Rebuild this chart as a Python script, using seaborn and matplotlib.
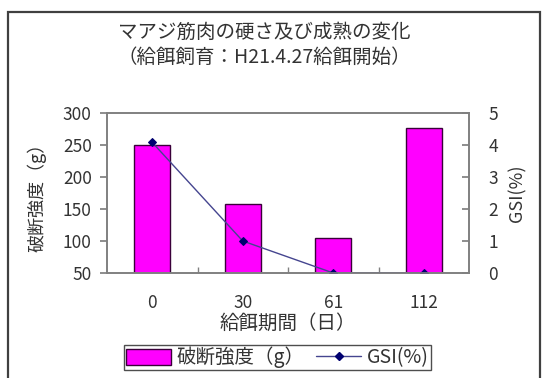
import matplotlib
matplotlib.use("Agg")
import matplotlib.pyplot as plt
import seaborn as sns
from matplotlib.patches import Rectangle, Patch
from matplotlib.lines import Line2D

# Feeding period (days) and measurements
days = ["0", "30", "61", "112"]
breaking_strength = [250, 158, 104, 276]   # g
gsi = [4.08, 1.0, 0.0, 0.0]                # %

title_text = "マアジ筋肉の硬さ及び成熟の変化\n（給餌飼育：H21.4.27給餌開始）"
xlabel_text = "給餌期間（日）"
ylabel_left = "破断強度（g）"
ylabel_right = "GSI(%)"

sns.set_theme(style="white")
plt.rcParams["font.family"] = ["Noto Sans CJK JP", "DejaVu Sans"]

text_color = "#333333"
bar_color = "#FF00FF"
bar_edge = "#3a003a"
line_color = "#45458f"
marker_color = "#000070"

fig = plt.figure(figsize=(5.42, 3.78), dpi=100)
ax = fig.add_axes([107 / 542, 1 - 273 / 378, (469 - 107) / 542, (273 - 113) / 378])

sns.barplot(x=days, y=breaking_strength, ax=ax, color=bar_color, width=0.4,
            edgecolor=bar_edge, linewidth=1.0, saturation=1)
ax.set_ylim(50, 300)
ax.set_yticks(range(50, 301, 50))
ax.set_xlim(-0.5, 3.5)

ax2 = ax.twinx()
sns.pointplot(x=days, y=gsi, ax=ax2, color=line_color, markers="D",
              linestyles="-", markersize=4, linewidth=1.0)
for ln in ax2.lines:
    ln.set_markerfacecolor(marker_color)
    ln.set_markeredgecolor(marker_color)
ax2.set_ylim(0, 5)
ax2.set_yticks(range(0, 6))
ax2.set_xlim(-0.5, 3.5)

# x ticks: labels at category centres, tick marks at category boundaries
ax.set_xticks(range(len(days)))
ax.set_xticklabels(days)
ax.tick_params(axis="x", length=0, pad=15, labelsize=12.5, labelcolor=text_color)
ax.set_xticks([0.5, 1.5, 2.5], minor=True)
ax.tick_params(axis="x", which="minor", direction="in", length=4, color="#808080",
               bottom=True)

ax.tick_params(axis="y", direction="out", length=5, color="#808080", left=True,
               labelsize=12.5, labelcolor=text_color, pad=6)
ax2.tick_params(axis="y", direction="in", length=5, color="#808080", right=True,
                labelsize=12.5, labelcolor=text_color, pad=14)

for a in (ax, ax2):
    for s in a.spines.values():
        s.set_color("#808080")
        s.set_linewidth(1.2)
    a.grid(False)

ax.set_xlabel(xlabel_text, fontsize=14, color=text_color, labelpad=1)
ax.set_ylabel(ylabel_left, fontsize=13, color=text_color, labelpad=12)
ax2.set_ylabel(ylabel_right, fontsize=13, color=text_color, labelpad=7)

fig.text(0.487, 1 - 45 / 378, title_text, ha="center", va="center",
         fontsize=14, color=text_color, linespacing=1.25)

handles = [
    Patch(facecolor=bar_color, edgecolor=bar_edge, linewidth=1.0),
    Line2D([0], [0], color=line_color, marker="D", markersize=4, linewidth=1.0,
           markerfacecolor=marker_color, markeredgecolor=marker_color),
]
leg = fig.legend(handles, [ylabel_left, ylabel_right], loc="center",
                 bbox_to_anchor=(277.5 / 542, 1 - 357.5 / 378), ncol=2,
                 fontsize=14, frameon=True, fancybox=False, borderpad=0.1,
                 handlelength=2.3, handleheight=0.9, handletextpad=0.3,
                 columnspacing=0.6, borderaxespad=0)
leg.get_frame().set_edgecolor("#222222")
leg.get_frame().set_linewidth(1.0)
for t in leg.get_texts():
    t.set_color(text_color)

# outer chart frame
fig.patches.append(Rectangle((8 / 542, -0.05), 532 / 542, (378 - 12) / 378 + 0.05,
                             transform=fig.transFigure, fill=False,
                             edgecolor="#404040", linewidth=1.6, clip_on=False))

fig.savefig("out.png", dpi=100)
